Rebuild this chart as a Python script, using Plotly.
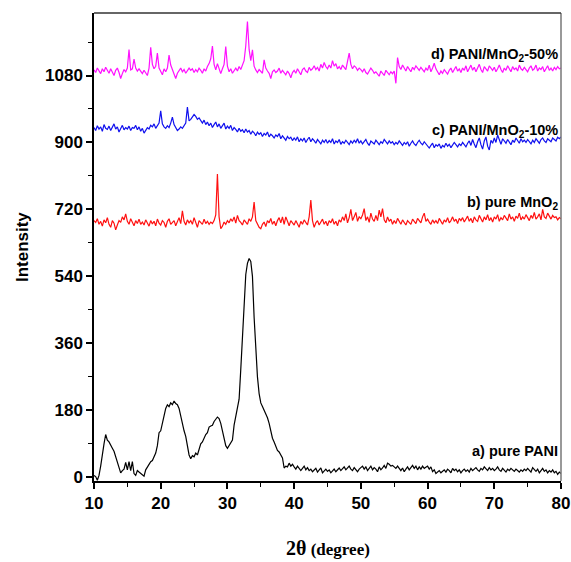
import numpy as np
import plotly.graph_objects as go

# 2-theta grid: 10 to 80 degrees in 0.25 steps
two_theta = [10 + 0.25 * i for i in range(281)]

pani = [
    5, 2, -8, 5, 30, 65, 90, 115, 100, 95, 85, 78, 70, 55, 45, 25, 12, 18, 22, 40,
    20, 42, 18, 42, 10, 5, 18, 14, 10, 8, 3, 20, 28, 35, 42, 45, 55, 65, 85, 120,
    125, 150, 165, 185, 195, 190, 200, 195, 205, 198, 195, 185, 165, 140, 125, 110, 85, 60, 50, 58,
    55, 65, 60, 78, 90, 95, 108, 115, 120, 135, 138, 140, 150, 158, 162, 158, 145, 125, 100, 85,
    78, 85, 92, 100, 140, 165, 185, 210, 290, 380, 470, 545, 575, 588, 580, 540, 430, 340, 270, 225,
    200, 190, 180, 170, 160, 145, 120, 105, 95, 80, 72, 68, 60, 52, 25, 30, 28, 38, 30, 35,
    28, 22, 30, 25, 18, 24, 30, 20, 26, 18, 22, 15, 20, 24, 14, 20, 25, 12, 18, 22,
    16, 20, 12, 18, 22, 15, 20, 25, 18, 22, 28, 20, 25, 30, 22, 18, 26, 20, 15, 22,
    25, 30, 22, 28, 18, 24, 30, 20, 26, 22, 15, 28, 20, 25, 32, 24, 38, 35, 30, 32,
    28, 24, 30, 22, 18, 25, 15, 22, 28, 20, 26, 32, 24, 30, 20, 28, 22, 30, 24, 26,
    30, 22, 28, 15, 20, 10, 14, 18, 12, 16, 20, 14, 22, 18, 12, 24, 18, 22, 15, 20,
    12, 18, 22, 16, 20, 14, 24, 18, 22, 26, 20, 16, 24, 20, 28, 22, 18, 26, 20, 24,
    18, 22, 28, 20, 16, 24, 20, 14, 22, 18, 24, 20, 16, 22, 18, 14, 20, 16, 22, 18,
    24, 18, 14, 26, 20, 16, 22, 12, 18, 24, 16, 20, 12, 18, 14, 20, 12, 16, 8, 14,
    10,
]

mno2 = [
    690, 685, 695, 680, 688, 675, 692, 684, 698, 680, 672, 690, 683, 665, 678, 690, 685, 700, 692, 708,
    688, 680, 695, 684, 676, 690, 682, 694, 680, 686, 678, 692, 684, 675, 690, 681, 688, 676, 694, 683,
    678, 690, 685, 672, 688, 695, 680, 684, 690, 676, 685, 698, 682, 716, 688, 678, 692, 684, 690, 680,
    698, 684, 672, 690, 686, 680, 694, 682, 688, 680, 686, 682, 690, 705, 815, 700, 668, 675, 686, 680,
    690, 684, 695, 688, 700, 683, 704, 690, 685, 678, 692, 686, 680, 695, 688, 700, 740, 690, 680, 672,
    668, 680, 686, 674, 690, 684, 696, 680, 688, 676, 690, 698, 684, 700, 680, 700, 688, 676, 690, 684,
    678, 690, 682, 672, 688, 680, 692, 685, 678, 700, 745, 690, 672, 684, 690, 678, 686, 694, 680, 688,
    676, 690, 684, 695, 680, 688, 676, 692, 686, 700, 690, 708, 684, 698, 720, 690, 700, 712, 688, 700,
    695, 705, 722, 690, 700, 685, 710, 694, 688, 704, 690, 718, 700, 722, 692, 684, 700, 688, 694, 680,
    690, 682, 696, 686, 680, 692, 684, 678, 690, 686, 680, 694, 688, 682, 696, 690, 684, 700, 710, 688,
    694, 686, 680, 692, 684, 690, 682, 696, 688, 680, 692, 686, 698, 684, 690, 700, 688, 694, 682, 696,
    690, 698, 686, 694, 702, 688, 696, 684, 700, 692, 688, 704, 694, 686, 700, 692, 706, 690, 698, 686,
    700, 694, 706, 688, 698, 692, 704, 696, 690, 708, 694, 700, 688, 702, 696, 710, 692, 700, 694, 706,
    698, 690, 704, 696, 712, 694, 700, 708, 692, 720, 700, 696, 710, 702, 694, 704, 698, 700, 692, 698,
    695,
]

pani_mno2_10 = [
    940, 932, 945, 936, 942, 930, 948, 938, 935, 944, 932, 940, 950, 936, 942, 928, 938, 946, 934, 940,
    936, 944, 932, 940, 938, 946, 934, 942, 930, 938, 925, 932, 940, 936, 946, 942, 950, 938, 944, 952,
    985, 950, 942, 938, 945, 940, 952, 968, 948, 938, 932, 936, 942, 938, 944, 952, 995, 958, 962, 968,
    975, 970, 962, 966, 958, 952, 960, 948, 955, 945, 952, 940, 948, 955, 942, 950, 938, 946, 952, 936,
    944, 938, 946, 932, 940, 935, 928, 938, 930, 934, 926, 936, 928, 932, 922, 930, 926, 918, 928, 922,
    926, 916, 924, 920, 928, 915, 922, 918, 912, 920, 916, 924, 910, 918, 912, 906, 916, 910, 914, 905,
    912, 906, 915, 902, 910, 904, 912, 900, 908, 914, 902, 910, 905, 898, 908, 902, 896, 906, 900, 908,
    898, 905, 900, 910, 896, 904, 900, 908, 895, 902, 898, 906, 900, 894, 904, 898, 906, 900, 910, 898,
    904, 896, 902, 908, 898, 892, 904, 900, 896, 906, 900, 894, 902, 898, 908, 900, 896, 904, 898, 902,
    894, 900, 896, 904, 898, 892, 900, 895, 902, 890, 898, 904, 896, 892, 900, 906, 898, 894, 902, 896,
    890, 885, 892, 898, 886, 894, 890, 896, 884, 892, 888, 898, 890, 895, 886, 892, 900, 894, 888, 896,
    892, 900, 894, 888, 898, 904, 892, 908, 896, 886, 902, 912, 894, 882, 904, 915, 890, 880, 906, 898,
    912, 900, 920, 905, 895, 910, 902, 898, 908, 900, 894, 906, 900, 912, 904, 898, 910, 902, 906, 900,
    908, 902, 896, 906, 900, 910, 904, 898, 908, 912, 904, 900, 910, 906, 902, 912, 908, 904, 914, 910,
    915,
]

pani_mno2_50 = [
    1095, 1088, 1100, 1092, 1085, 1098, 1090, 1102, 1094, 1086, 1098, 1090, 1080, 1094, 1100, 1088, 1072, 1085, 1096, 1090,
    1100, 1150, 1095, 1098, 1124, 1100, 1092, 1098, 1090, 1085, 1094, 1088, 1080, 1100, 1156, 1110, 1098, 1105, 1140, 1100,
    1092, 1082, 1098, 1090, 1100, 1135, 1108, 1095, 1088, 1072, 1086, 1094, 1100, 1090, 1096, 1086, 1092, 1100, 1094, 1098,
    1088, 1096, 1090, 1100, 1094, 1086, 1098, 1092, 1104, 1112, 1125, 1159, 1110, 1095, 1112, 1100, 1085, 1098, 1110, 1158,
    1105, 1090, 1098, 1086, 1094, 1100, 1092, 1104, 1096, 1108, 1120, 1160, 1225, 1150, 1120, 1149, 1105, 1095, 1088, 1096,
    1090, 1086, 1122, 1100, 1092, 1086, 1072, 1090, 1095, 1088, 1092, 1100, 1086, 1094, 1088, 1082, 1092, 1085, 1074, 1088,
    1094, 1086, 1098, 1090, 1082, 1096, 1100, 1092, 1088, 1102, 1094, 1098, 1106, 1096, 1102, 1092, 1110, 1100, 1115, 1104,
    1098, 1108, 1100, 1120, 1105, 1112, 1098, 1104, 1096, 1108, 1102, 1096, 1118, 1140, 1110, 1098, 1106, 1102, 1094, 1100,
    1096, 1090, 1098, 1088, 1084, 1092, 1100, 1094, 1086, 1090, 1084, 1078, 1092, 1086, 1080, 1094, 1088, 1082, 1090, 1085,
    1092, 1059, 1128, 1104, 1096, 1108, 1100, 1092, 1104, 1098, 1090, 1102, 1096, 1106, 1098, 1094, 1102, 1096, 1090, 1100,
    1094, 1108, 1090, 1100, 1113, 1098, 1088, 1082, 1092, 1086, 1096, 1090, 1084, 1094, 1100, 1088, 1096, 1104, 1092, 1098,
    1088, 1100, 1094, 1106, 1090, 1098, 1108, 1094, 1102, 1090, 1098, 1110, 1096, 1088, 1104, 1098, 1092, 1106, 1100, 1094,
    1102, 1090, 1098, 1108, 1096, 1088, 1100, 1094, 1106, 1098, 1090, 1104, 1096, 1100, 1092, 1108, 1098, 1094, 1102, 1096,
    1090, 1100, 1106, 1094, 1098, 1108, 1092, 1100, 1096, 1104, 1090, 1098, 1106, 1094, 1100, 1092, 1102, 1096, 1104, 1098,
    1100,
]

series_names = ["a) pure PANI", "b) pure MnO2", "c) PANI/MnO2-10%", "d) PANI/MnO2-50%"]
series_colors = ["#000000", "#FF1010", "#1010EE", "#FF10FF"]
x_ticks = [10, 20, 30, 40, 50, 60, 70, 80]
y_ticks = [0, 180, 360, 540, 720, 900, 1080]

fig = go.Figure()
for name, ys, col in zip(series_names, [pani, mno2, pani_mno2_10, pani_mno2_50], series_colors):
    fig.add_trace(go.Scatter(x=two_theta, y=ys, mode="lines", name=name,
                             line=dict(color=col, width=1.2), showlegend=False))

label_font = dict(family="Liberation Sans, Arial", size=14.5, color="black")
labels = [
    ("<b>a) pure PANI</b>", 70),
    ("<b>b) pure MnO<sub>2</sub></b>", 738),
    ("<b>c) PANI/MnO<sub>2</sub>-10%</b>", 932),
    ("<b>d) PANI/MnO<sub>2</sub>-50%</b>", 1135),
]
for txt, yv in labels:
    fig.add_annotation(x=79.8, y=yv, xref="x", yref="y", text=txt, showarrow=False,
                       xanchor="right", yanchor="middle", font=label_font)

fig.add_annotation(x=-0.154, y=0.5, xref="paper", yref="paper", text="<b>Intensity</b>",
                   textangle=-90, showarrow=False, xanchor="center", yanchor="middle",
                   font=dict(family="Liberation Sans, Arial", size=17, color="black"))
fig.add_annotation(x=0.5, y=-0.143, xref="paper", yref="paper",
                   text="<b><span style='font-size:20px'>2θ</span> (degree)</b>",
                   showarrow=False, xanchor="center", yanchor="middle",
                   font=dict(family="Liberation Serif, Times New Roman, serif", size=17, color="black"))

fig.add_shape(type="line", xref="paper", yref="paper", x0=1, x1=1, y0=0, y1=1,
              line=dict(color="#777777", width=1.5))
fig.add_shape(type="line", xref="paper", yref="paper", x0=0, x1=1, y0=1, y1=1,
              line=dict(color="#333333", width=1.5))

tick_font = dict(family="Liberation Sans, Arial", size=17, color="black")
fig.update_xaxes(range=[10, 80], tickvals=x_ticks, ticktext=[f"<b>{v}</b>" for v in x_ticks],
                 ticks="outside", ticklen=6, tickwidth=1.5, tickcolor="black",
                 minor=dict(dtick=5, tick0=0, ticks="outside", ticklen=4, tickwidth=1.2, tickcolor="black"),
                 showline=True, linecolor="black", linewidth=1.5, mirror=False, automargin=False,
                 showgrid=False, zeroline=False, tickfont=tick_font)
fig.update_yaxes(range=[-10, 1248], tickvals=y_ticks, ticktext=[f"<b>{v}</b>" for v in y_ticks],
                 ticks="outside", ticklen=6, tickwidth=1.5, tickcolor="black",
                 minor=dict(tickvals=[90, 270, 450, 630, 810, 990, 1170], ticks="outside", ticklen=4,
                            tickwidth=1.2, tickcolor="black"),
                 showline=True, linecolor="black", linewidth=1.5, mirror=False, automargin=False,
                 showgrid=False, zeroline=False, tickfont=tick_font)

fig.update_layout(width=571, height=562, margin=dict(l=94, r=10, t=13, b=81, autoexpand=False),
                  plot_bgcolor="white", paper_bgcolor="white")

fig.write_html("out.html", config={"displayModeBar": False},
               post_script="document.body.style.margin='0';document.body.style.overflow='hidden';")
